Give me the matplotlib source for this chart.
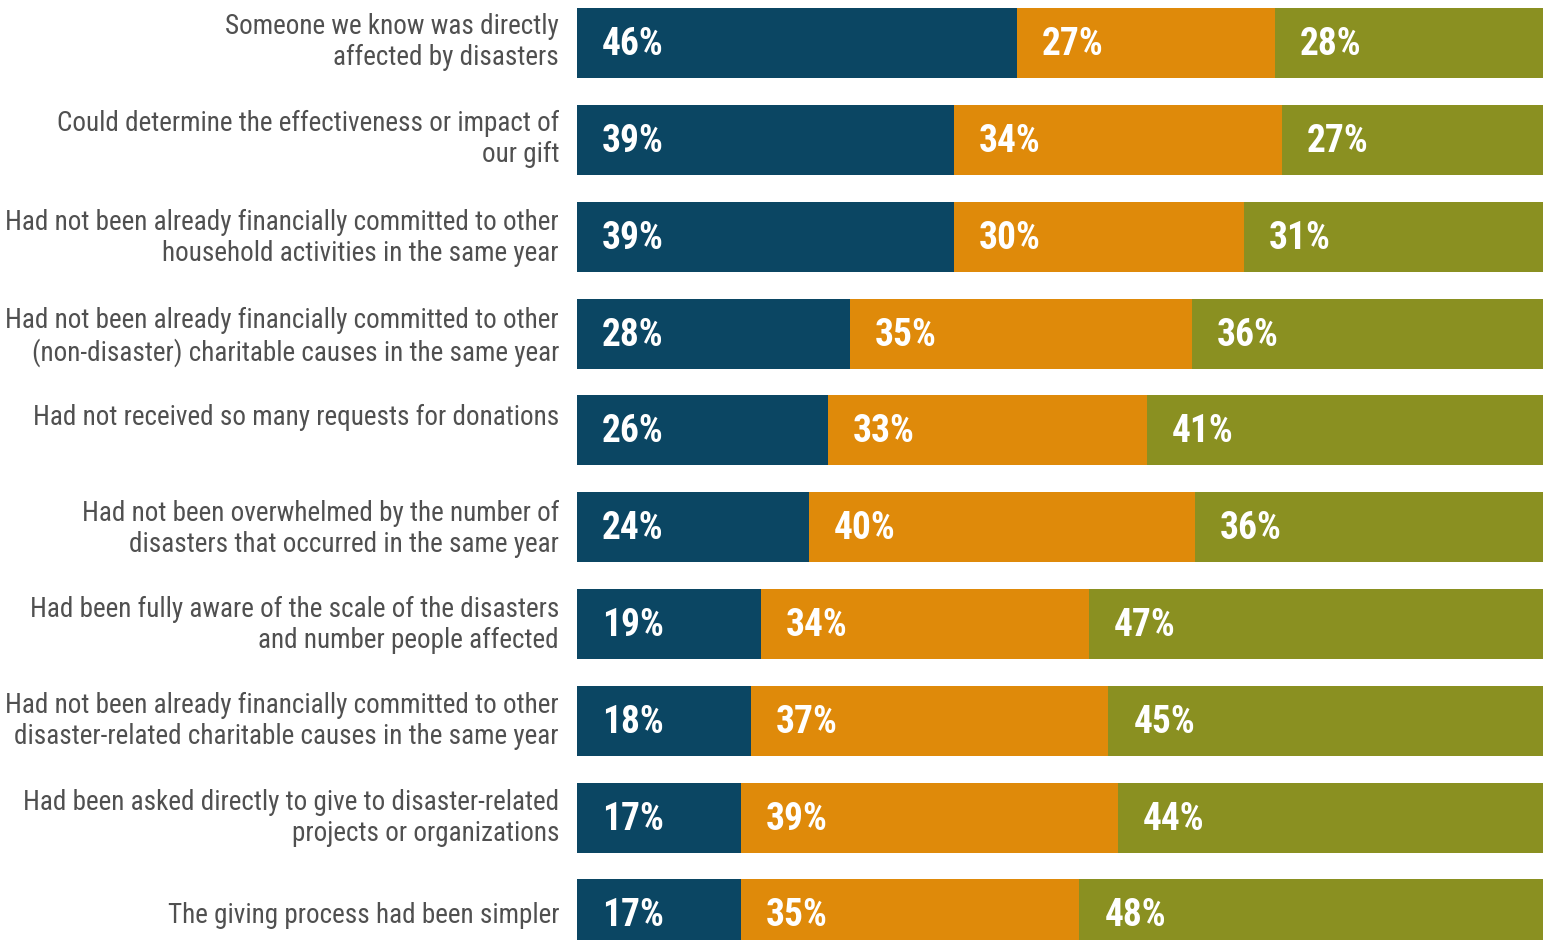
import matplotlib
matplotlib.use("Agg")
import matplotlib.pyplot as plt
import numpy as np

categories = [
    "Someone we know was directly\naffected by disasters",
    "Could determine the effectiveness or impact of\nour gift",
    "Had not been already financially committed to other\nhousehold activities in the same year",
    "Had not been already financially committed to other\n(non-disaster) charitable causes in the same year",
    "Had not received so many requests for donations",
    "Had not been overwhelmed by the number of\ndisasters that occurred in the same year",
    "Had been fully aware of the scale of the disasters\nand number people affected",
    "Had not been already financially committed to other\ndisaster-related charitable causes in the same year",
    "Had been asked directly to give to disaster-related\nprojects or organizations",
    "The giving process had been simpler",
]
series1 = [46, 39, 39, 28, 26, 24, 19, 18, 17, 17]
series2 = [27, 34, 30, 35, 33, 40, 34, 37, 39, 35]
series3 = [28, 27, 31, 36, 41, 36, 47, 45, 44, 48]

colors = ["#0b4663", "#df8a0a", "#8a9021"]
label_color = "#505050"

W, H = 1548, 940
fig = plt.figure(figsize=(W / 100, H / 100), dpi=100)
left_px, right_px = 577, 1543
ax = fig.add_axes([left_px / W, 0, (right_px - left_px) / W, 1])

row_px = 96.8
first_center_px = 43.2
ax.set_ylim((H - first_center_px) / row_px, -first_center_px / row_px)
ax.set_xlim(0, 1)

data = np.array([series1, series2, series3], dtype=float)
totals = data.sum(axis=0)
fracs = data / totals
y = np.arange(len(categories))
bar_h = 70 / row_px

lefts = np.zeros(len(categories))
for k in range(3):
    ax.barh(y, fracs[k], left=lefts, height=bar_h, color=colors[k], linewidth=0)
    for i in range(len(categories)):
        ax.text(lefts[i] + 25 / (right_px - left_px), y[i] + 1.5 / row_px, f"{int(data[k, i])}%",
                va="center", ha="left", color="white", fontsize=27,
                family=["Roboto Condensed", "DejaVu Sans"], fontweight="bold")
    lefts = lefts + fracs[k]

label_offsets_px = [-1, -1, 1, 3, -13, 2, 1, 0, 0, 1]
for i, cat in enumerate(categories):
    ax.text(-18 / (right_px - left_px), y[i] + label_offsets_px[i] / row_px, cat,
            ha="right", va="center", multialignment="right", color=label_color,
            fontsize=19.5, family=["Roboto Condensed", "DejaVu Sans"],
            linespacing=1.2, clip_on=False)

ax.axis("off")
fig.savefig("out.png", dpi=100)
